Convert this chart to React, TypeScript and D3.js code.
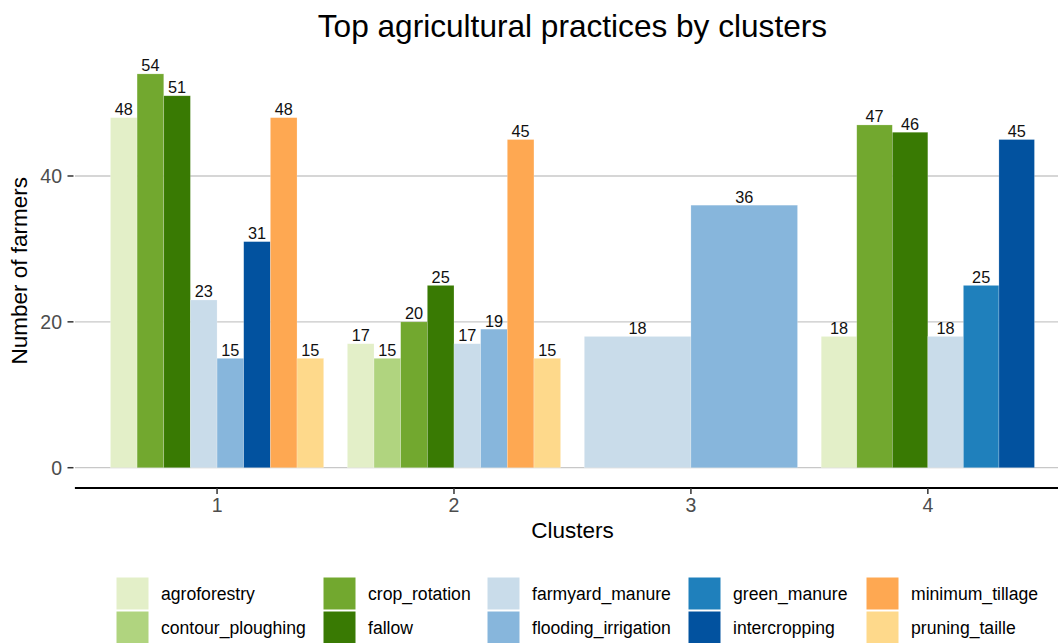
import React from "react";
import * as d3 from "d3";

const clusters = ["1", "2", "3", "4"];
const practices = [
  "agroforestry",
  "contour_ploughing",
  "crop_rotation",
  "fallow",
  "farmyard_manure",
  "flooding_irrigation",
  "green_manure",
  "intercropping",
  "minimum_tillage",
  "pruning_taille",
];
const practiceColors = [
  "#e3efc8",
  "#b0d47f",
  "#72a82f",
  "#397a03",
  "#c9dcea",
  "#87b6dc",
  "#1f80bc",
  "#02529f",
  "#fea852",
  "#fed98b",
];
// values per cluster (1..4); null = practice absent in that cluster
const agroforestry = [48, 17, null, 18];
const contourPloughing = [null, 15, null, null];
const cropRotation = [54, 20, null, 47];
const fallow = [51, 25, null, 46];
const farmyardManure = [23, 17, 18, 18];
const floodingIrrigation = [15, 19, 36, null];
const greenManure = [null, null, null, 25];
const intercropping = [31, null, null, 45];
const minimumTillage = [48, 45, null, null];
const pruningTaille = [15, 15, null, null];
const seriesValues: (number | null)[][] = [
  agroforestry,
  contourPloughing,
  cropRotation,
  fallow,
  farmyardManure,
  floodingIrrigation,
  greenManure,
  intercropping,
  minimumTillage,
  pruningTaille,
];
const yTicks = [0, 20, 40];

const W = 1058;
const H = 643;
const FONT = "'Liberation Sans', Arial, Helvetica, sans-serif";

export default function App() {
  const panelL = 74.9;
  const panelR = 1070;
  const panelT = 54.2;
  const panelB = 487.4;

  const x = d3.scalePoint<string>().domain(clusters).range([panelL, panelR]).padding(0.6);
  const step = x.step();
  const y = d3.scaleLinear().domain([-2.7, 56.7]).range([panelB, panelT]);

  const bars: { key: string; x: number; w: number; v: number; color: string }[] = [];
  clusters.forEach((c, ci) => {
    const present = practices
      .map((p, pi) => ({ p, pi, v: seriesValues[pi][ci] }))
      .filter((d) => d.v !== null) as { p: string; pi: number; v: number }[];
    const total = step * 0.9;
    const w = total / present.length;
    const start = (x(c) as number) - total / 2;
    present.forEach((d, i) => {
      bars.push({ key: c + d.p, x: start + i * w, w, v: d.v, color: practiceColors[d.pi] });
    });
  });

  const legendColX = [116, 323, 487, 688, 866];
  const legendRowY = [577, 611];
  const keySize = 33;

  return (
    <svg
      width={W}
      height={H}
      style={{ position: "absolute", left: 0, top: 0, background: "#fff" }}
      fontFamily={FONT}
    >
      <rect x={0} y={0} width={W} height={H} fill="#fff" />
      {/* title */}
      <text x={(panelL + panelR) / 2} y={37} textAnchor="middle" fontSize={31.6} fill="#000">
        Top agricultural practices by clusters
      </text>
      {/* gridlines */}
      {yTicks.map((t) => (
        <line key={"g" + t} x1={panelL} x2={panelR} y1={y(t)} y2={y(t)} stroke="#c8c8c8" strokeWidth={1.3} />
      ))}
      {/* bars */}
      {bars.map((b) => (
        <rect
          key={b.key}
          x={b.x}
          y={y(b.v)}
          width={b.w}
          height={y(0) - y(b.v)}
          fill={b.color}
          stroke="#ffffff"
          strokeOpacity={0.35}
          strokeWidth={0.6}
        />
      ))}
      {/* value labels */}
      {bars.map((b) => (
        <text
          key={"l" + b.key}
          x={b.x + b.w / 2}
          y={y(b.v) - 2.5}
          textAnchor="middle"
          fontSize={16.3}
          fill="#111"
        >
          {b.v}
        </text>
      ))}
      {/* y axis ticks and labels */}
      {yTicks.map((t) => (
        <g key={"yt" + t}>
          <line x1={67.5} x2={73.5} y1={y(t)} y2={y(t)} stroke="#333" strokeWidth={1.5} />
          <text x={62} y={y(t)} dy="0.36em" textAnchor="end" fontSize={19.5} fill="#4d4d4d">
            {t}
          </text>
        </g>
      ))}
      {/* x axis line */}
      <line x1={panelL} x2={panelR} y1={488} y2={488} stroke="#000" strokeWidth={2} />
      {clusters.map((c) => (
        <g key={"xt" + c}>
          <line x1={x(c)} x2={x(c)} y1={488} y2={494} stroke="#333" strokeWidth={1.5} />
          <text x={x(c)} y={512} textAnchor="middle" fontSize={19.5} fill="#4d4d4d">
            {c}
          </text>
        </g>
      ))}
      {/* axis titles */}
      <text x={(panelL + panelR) / 2} y={538} textAnchor="middle" fontSize={22.5} fill="#000">
        Clusters
      </text>
      <text
        transform={`translate(27, ${(panelT + panelB) / 2}) rotate(-90)`}
        textAnchor="middle"
        fontSize={22.5}
        fill="#000"
      >
        Number of farmers
      </text>
      {/* legend */}
      {practices.map((p, i) => {
        const col = Math.floor(i / 2);
        const row = i % 2;
        const kx = legendColX[col];
        const ky = legendRowY[row];
        return (
          <g key={"lg" + p}>
            <rect x={kx} y={ky} width={keySize} height={keySize} fill={practiceColors[i]} stroke="#fff" strokeWidth={1} />
            <text x={kx + 45} y={ky + keySize / 2} dy="0.36em" fontSize={17.6} fill="#000">
              {p}
            </text>
          </g>
        );
      })}
    </svg>
  );
}
